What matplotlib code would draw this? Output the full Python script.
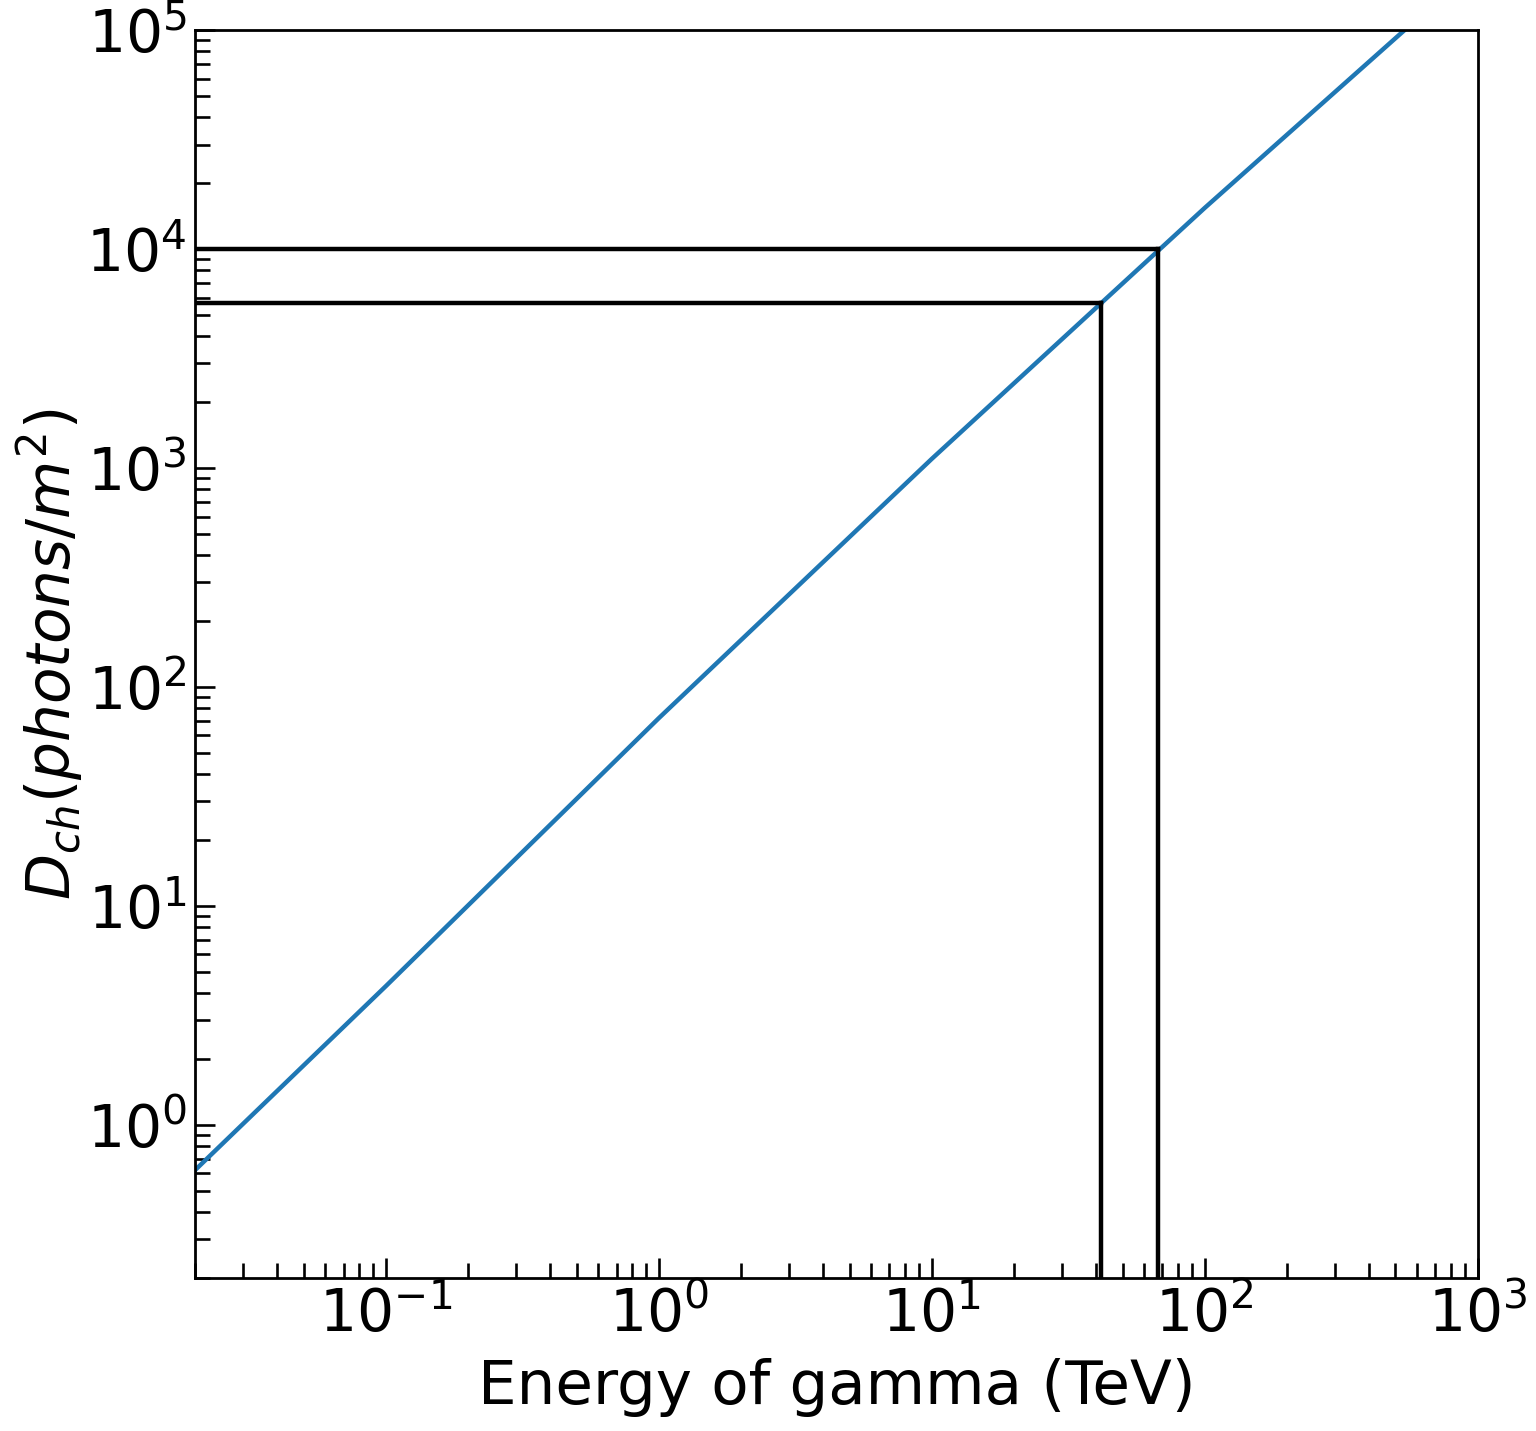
import numpy as np
import matplotlib
matplotlib.use("Agg")
import matplotlib.pyplot as plt

# Cherenkov photon density vs gamma energy
energy_tev = [0.01, 0.1, 1.0, 10.0, 100.0, 1000.0]
density = [0.27, 4.3, 72.0, 1100.0, 15400.0, 1.98e5]

# threshold markers: (energy, density) where the guide lines meet the curve
mark_energy = [41.6, 67.3]
mark_density = [5660.0, 1.0e4]

XLIM = (0.02, 1000.0)
YLIM = (0.2, 1.0e5)

fig = plt.figure(figsize=(15.36, 14.31), dpi=100)
ax = fig.add_axes([0.127, 0.107, 0.835, 0.872])

ax.plot(energy_tev, density, color="#1f77b4", lw=3.2)
for e, d in zip(mark_energy, mark_density):
    ax.plot([XLIM[0], e], [d, d], color="black", lw=3.2)
    ax.plot([e, e], [YLIM[0], d], color="black", lw=3.2)

ax.set_xscale("log")
ax.set_yscale("log")
ax.set_xlim(*XLIM)
ax.set_ylim(*YLIM)

for s in ax.spines.values():
    s.set_linewidth(2)
ax.tick_params(which="both", direction="in", top=False, right=False, width=1.9)
ax.tick_params(which="major", length=14.5, labelsize=42, pad=6)
ax.tick_params(which="minor", length=10.5)

ax.set_xlabel("Energy of gamma (TeV)", fontsize=44, labelpad=10)
ax.set_ylabel(r"$D_{ch}(photons/m^2)$", fontsize=43, labelpad=1)

fig.savefig("out.png", dpi=100)
